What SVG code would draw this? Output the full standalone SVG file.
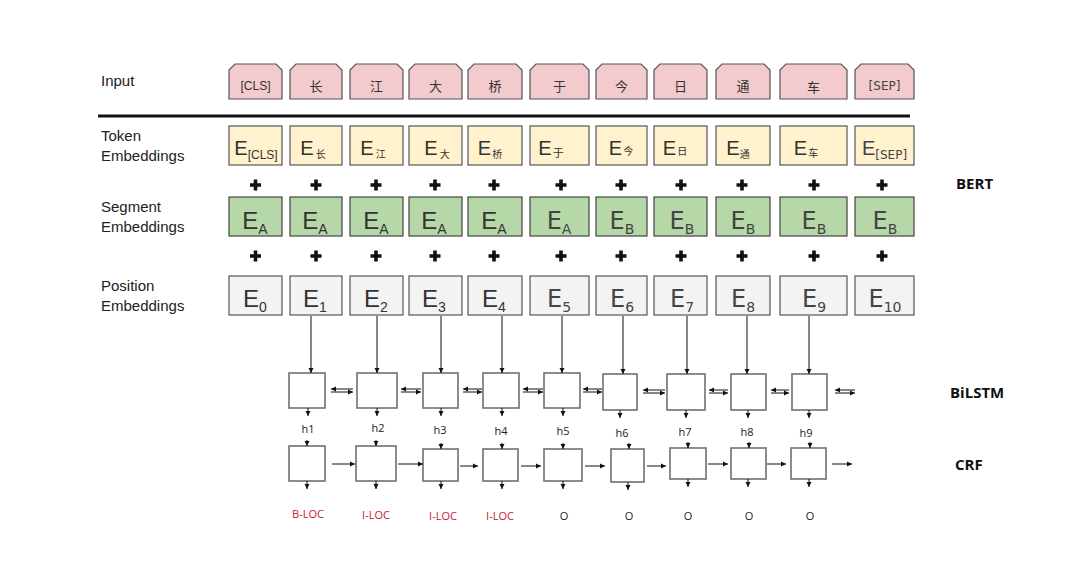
<svg xmlns="http://www.w3.org/2000/svg" width="1070" height="573" viewBox="0 0 1070 573">
<style>
.lbl{font-family:"Liberation Sans",Arial,sans-serif;font-size:15px;fill:#222}
.inp{fill:#f3cace;stroke:#555;stroke-width:1.2}
.tok{fill:#fff2cc;stroke:#555;stroke-width:1.2}
.seg{fill:#b6d7a8;stroke:#444;stroke-width:1.2}
.pos{fill:#f3f3f3;stroke:#555;stroke-width:1.2}
.it{font-family:"Liberation Sans","Noto Sans CJK SC",sans-serif;font-size:12px;fill:#333;text-anchor:middle}
.ic{font-family:"Noto Sans CJK SC",sans-serif;font-size:13px;fill:#333;text-anchor:middle}
.te{font-family:"Liberation Sans","Noto Sans CJK SC",sans-serif;font-size:20px;fill:#333;text-anchor:middle}
.se{font-family:"Liberation Sans",sans-serif;font-size:24px;fill:#333;text-anchor:middle}
.sd{font-family:"DejaVu Sans",sans-serif;font-size:24px;fill:#444;text-anchor:middle}
.cell{fill:#fff;stroke:#707070;stroke-width:1.6}
.ln{stroke:#111;stroke-width:1;fill:none}
.sm{font-family:"Open Sans","Noto Sans",sans-serif;font-size:11px;fill:#222;text-anchor:middle}
.red{fill:#c8202c}
.side{font-family:"Open Sans","DejaVu Sans",sans-serif;font-size:15px;font-weight:bold;fill:#111}
</style>
<defs>
<marker id="ah" markerWidth="6" markerHeight="6" refX="5" refY="3" orient="auto" markerUnits="userSpaceOnUse">
<path d="M0,0.5 L5,3 L0,5.5 Z" fill="#111"/>
</marker>
<path id="plus" d="M-1.8,-5.5 H1.8 V-1.8 H5.5 V1.8 H1.8 V5.5 H-1.8 V1.8 H-5.5 V-1.8 H-1.8 Z" fill="#111"/>
</defs>
<rect width="1070" height="573" fill="#fff"/>

<g id="row-labels">
<text class="lbl" x="101" y="86">Input</text>
<text class="lbl" x="101" y="141">Token</text>
<text class="lbl" x="101" y="161">Embeddings</text>
<text class="lbl" x="101" y="212">Segment</text>
<text class="lbl" x="101" y="232">Embeddings</text>
<text class="lbl" x="101" y="291">Position</text>
<text class="lbl" x="101" y="311">Embeddings</text>
</g>
<line x1="98" y1="116" x2="910" y2="116" stroke="#111" stroke-width="3"/>

<g id="input">
<path class="inp" d="M229,99 V70 L235,64 H276 L282,70 V99 Z"/><text class="it" x="255.5" y="90">[CLS]</text>
<path class="inp" d="M290,99 V70 L296,64 H336 L342,70 V99 Z"/><text class="ic" x="316" y="91">长</text>
<path class="inp" d="M350,99 V70 L356,64 H397 L403,70 V99 Z"/><text class="ic" x="376.5" y="91">江</text>
<path class="inp" d="M409,99 V70 L415,64 H456 L462,70 V99 Z"/><text class="ic" x="435.5" y="91">大</text>
<path class="inp" d="M468,99 V70 L474,64 H516 L522,70 V99 Z"/><text class="ic" x="495" y="91">桥</text>
<path class="inp" d="M530,99 V70 L536,64 H583 L589,70 V99 Z"/><text class="ic" x="559.5" y="91">于</text>
<path class="inp" d="M596,99 V70 L602,64 H641 L647,70 V99 Z"/><text class="ic" x="621.5" y="91">今</text>
<path class="inp" d="M654,99 V70 L660,64 H701 L707,70 V99 Z"/><text class="ic" x="680.5" y="91">日</text>
<path class="inp" d="M716,99 V70 L722,64 H764 L770,70 V99 Z"/><text class="ic" x="743" y="91">通</text>
<path class="inp" d="M780,99 V70 L786,64 H841 L847,70 V99 Z"/><text class="ic" x="813.5" y="92">车</text>
<path class="inp" d="M855,99 V70 L861,64 H908 L914,70 V99 Z"/><text class="it" x="884.5" y="90" style="font-family:'DejaVu Sans',sans-serif;fill:#444">[SEP]</text>
</g>

<g id="token">
<rect class="tok" x="229" y="126" width="53" height="39"/><text class="te" x="256" y="155">E<tspan dy="4" font-size="12">[CLS]</tspan></text>
<rect class="tok" x="290" y="126" width="52" height="39"/><text class="te" x="313" y="155">E<tspan dx="2" dy="3" font-size="10">长</tspan></text>
<rect class="tok" x="350" y="126" width="53" height="39"/><text class="te" x="373" y="155">E<tspan dx="2" dy="3" font-size="10">江</tspan></text>
<rect class="tok" x="409" y="126" width="53" height="39"/><text class="te" x="437" y="155">E<tspan dx="2" dy="3" font-size="10">大</tspan></text>
<rect class="tok" x="468" y="126" width="54" height="39"/><text class="te" x="490" y="155">E<tspan dx="1" dy="3" font-size="10">桥</tspan></text>
<rect class="tok" x="530" y="126" width="59" height="39"/><text class="te" x="551" y="155">E<tspan dx="1" dy="2" font-size="11">于</tspan></text>
<rect class="tok" x="596" y="126" width="51" height="39"/><text class="te" x="621" y="155">E<tspan dx="1" dy="0" font-size="10">今</tspan></text>
<rect class="tok" x="654" y="126" width="53" height="39"/><text class="te" x="675" y="155">E<tspan dx="1" dy="0" font-size="10">日</tspan></text>
<rect class="tok" x="716" y="126" width="54" height="39"/><text class="te" x="738" y="155">E<tspan dy="3" font-size="10">通</tspan></text>
<rect class="tok" x="780" y="126" width="67" height="39"/><text class="te" x="806" y="155">E<tspan dx="1" dy="2" font-size="10">车</tspan></text>
<rect class="tok" x="855" y="126" width="59" height="39"/><text class="te" x="884.5" y="155" style="fill:#444">E<tspan dy="4" font-size="12" font-family="DejaVu Sans">[SEP]</tspan></text>
</g>

<g id="plus-row-1">
<use href="#plus" x="255.5" y="185"/><use href="#plus" x="316" y="185"/><use href="#plus" x="376" y="185"/><use href="#plus" x="435" y="185"/><use href="#plus" x="494" y="185"/><use href="#plus" x="561" y="185"/><use href="#plus" x="621" y="185"/><use href="#plus" x="681" y="185"/><use href="#plus" x="742" y="185"/><use href="#plus" x="814" y="185"/><use href="#plus" x="882" y="185"/>
</g>

<g id="segment">
<rect class="seg" x="229" y="197" width="53" height="39"/><text class="se" x="255" y="229">E<tspan dy="5" font-size="14">A</tspan></text>
<rect class="seg" x="290" y="197" width="52" height="39"/><text class="se" x="315" y="229">E<tspan dy="5" font-size="14">A</tspan></text>
<rect class="seg" x="350" y="197" width="53" height="39"/><text class="se" x="376" y="229">E<tspan dy="5" font-size="14">A</tspan></text>
<rect class="seg" x="409" y="197" width="53" height="39"/><text class="se" x="434" y="229">E<tspan dy="5" font-size="14">A</tspan></text>
<rect class="seg" x="468" y="197" width="54" height="39"/><text class="se" x="494" y="229">E<tspan dy="5" font-size="14">A</tspan></text>
<rect class="seg" x="530" y="197" width="59" height="39"/><text class="sd" x="559" y="229">E<tspan dy="5" font-size="14">A</tspan></text>
<rect class="seg" x="596" y="197" width="51" height="39"/><text class="sd" x="622" y="229">E<tspan dy="5" font-size="14">B</tspan></text>
<rect class="seg" x="654" y="197" width="53" height="39"/><text class="sd" x="682" y="229">E<tspan dy="5" font-size="14">B</tspan></text>
<rect class="seg" x="716" y="197" width="54" height="39"/><text class="sd" x="743" y="229">E<tspan dy="5" font-size="14">B</tspan></text>
<rect class="seg" x="780" y="197" width="67" height="39"/><text class="sd" x="814" y="229">E<tspan dy="5" font-size="14">B</tspan></text>
<rect class="seg" x="855" y="197" width="59" height="39"/><text class="sd" x="885" y="229">E<tspan dy="5" font-size="14">B</tspan></text>
</g>

<g id="plus-row-2">
<use href="#plus" x="255.5" y="256"/><use href="#plus" x="316" y="256"/><use href="#plus" x="376" y="256"/><use href="#plus" x="435" y="256"/><use href="#plus" x="494" y="256"/><use href="#plus" x="561" y="256"/><use href="#plus" x="621" y="256"/><use href="#plus" x="681" y="256"/><use href="#plus" x="742" y="256"/><use href="#plus" x="814" y="256"/><use href="#plus" x="882" y="256"/>
</g>

<g id="position">
<rect class="pos" x="229" y="276" width="53" height="39"/><text class="se" x="255" y="307">E<tspan dy="5" font-size="14">0</tspan></text>
<rect class="pos" x="290" y="276" width="52" height="39"/><text class="se" x="315" y="307">E<tspan dy="5" font-size="14">1</tspan></text>
<rect class="pos" x="350" y="276" width="53" height="39"/><text class="se" x="376" y="307">E<tspan dy="5" font-size="14">2</tspan></text>
<rect class="pos" x="409" y="276" width="53" height="39"/><text class="se" x="434" y="307">E<tspan dy="5" font-size="14">3</tspan></text>
<rect class="pos" x="468" y="276" width="54" height="39"/><text class="se" x="494" y="307">E<tspan dy="5" font-size="14">4</tspan></text>
<rect class="pos" x="530" y="276" width="59" height="39"/><text class="sd" x="559" y="307">E<tspan dy="5" font-size="14">5</tspan></text>
<rect class="pos" x="596" y="276" width="51" height="39"/><text class="sd" x="622" y="307">E<tspan dy="5" font-size="14">6</tspan></text>
<rect class="pos" x="654" y="276" width="53" height="39"/><text class="sd" x="682" y="307">E<tspan dy="5" font-size="14">7</tspan></text>
<rect class="pos" x="716" y="276" width="54" height="39"/><text class="sd" x="743" y="307">E<tspan dy="5" font-size="14">8</tspan></text>
<rect class="pos" x="780" y="276" width="67" height="39"/><text class="sd" x="814" y="307">E<tspan dy="5" font-size="14">9</tspan></text>
<rect class="pos" x="855" y="276" width="59" height="39"/><text class="sd" x="885" y="307">E<tspan dy="5" font-size="14">10</tspan></text>
</g>

<g id="bilstm">
<rect class="cell" x="289" y="373" width="36" height="35"/>
<rect class="cell" x="357" y="373" width="40" height="35"/>
<rect class="cell" x="423" y="373" width="35" height="35"/>
<rect class="cell" x="483" y="373" width="36" height="35"/>
<rect class="cell" x="544" y="373" width="36" height="35"/>
<rect class="cell" x="603" y="374" width="34" height="36"/>
<rect class="cell" x="667" y="374" width="38" height="36"/>
<rect class="cell" x="731" y="374" width="35" height="36"/>
<rect class="cell" x="792" y="374" width="35" height="36"/>
</g>

<g id="h-labels">
<text class="sm" x="308" y="433">h1</text>
<text class="sm" x="378" y="432">h2</text>
<text class="sm" x="440" y="434">h3</text>
<text class="sm" x="501" y="435">h4</text>
<text class="sm" x="563" y="435">h5</text>
<text class="sm" x="622" y="437">h6</text>
<text class="sm" x="685" y="436">h7</text>
<text class="sm" x="747" y="436">h8</text>
<text class="sm" x="806" y="437">h9</text>
</g>

<g id="crf">
<rect class="cell" x="289" y="446" width="36" height="35"/>
<rect class="cell" x="356" y="446" width="40" height="35"/>
<rect class="cell" x="423" y="449" width="35" height="32"/>
<rect class="cell" x="483" y="449" width="35" height="32"/>
<rect class="cell" x="544" y="449" width="38" height="32"/>
<rect class="cell" x="611" y="449" width="33" height="33"/>
<rect class="cell" x="670" y="448" width="36" height="31"/>
<rect class="cell" x="731" y="448" width="35" height="31"/>
<rect class="cell" x="791" y="448" width="35" height="31"/>
</g>

<g id="tags">
<text class="sm red" x="308" y="518">B-LOC</text>
<text class="sm red" x="376" y="519">I-LOC</text>
<text class="sm red" x="443" y="520">I-LOC</text>
<text class="sm red" x="500" y="520">I-LOC</text>
<text class="sm" x="564" y="520">O</text>
<text class="sm" x="629" y="520">O</text>
<text class="sm" x="688" y="520">O</text>
<text class="sm" x="749" y="520">O</text>
<text class="sm" x="810" y="520">O</text>
</g>

<g id="side-labels">
<text class="side" x="956" y="189">BERT</text>
<text class="side" x="950" y="398">BiLSTM</text>
<text class="side" x="955" y="470">CRF</text>
</g>

<g id="connectors" class="ln" marker-end="url(#ah)">
<!-- position to BiLSTM -->
<line x1="311" y1="316" x2="311" y2="373"/>
<line x1="377" y1="316" x2="377" y2="373"/>
<line x1="441" y1="316" x2="441" y2="373"/>
<line x1="502" y1="316" x2="502" y2="373"/>
<line x1="562" y1="316" x2="562" y2="373"/>
<line x1="623" y1="316" x2="623" y2="374"/>
<line x1="687" y1="316" x2="687" y2="374"/>
<line x1="747" y1="316" x2="747" y2="374"/>
<line x1="809" y1="316" x2="809" y2="374"/>
<!-- BiLSTM outputs -->
<line x1="308" y1="408" x2="308" y2="416"/>
<line x1="377" y1="408" x2="377" y2="416"/>
<line x1="441" y1="408" x2="441" y2="416"/>
<line x1="502" y1="408" x2="502" y2="416"/>
<line x1="563" y1="408" x2="563" y2="416"/>
<line x1="620" y1="410" x2="620" y2="418"/>
<line x1="686" y1="410" x2="686" y2="418"/>
<line x1="748" y1="410" x2="748" y2="418"/>
<line x1="809" y1="410" x2="809" y2="418"/>
<!-- bidirectional -->
<line x1="353" y1="389" x2="331" y2="389"/><line x1="331" y1="392" x2="353" y2="392"/>
<line x1="421" y1="389" x2="401" y2="389"/><line x1="401" y1="392" x2="421" y2="392"/>
<line x1="482" y1="389" x2="463" y2="389"/><line x1="463" y1="392" x2="482" y2="392"/>
<line x1="543" y1="389" x2="523" y2="389"/><line x1="523" y1="392" x2="543" y2="392"/>
<line x1="602" y1="389" x2="583" y2="389"/><line x1="583" y1="392" x2="602" y2="392"/>
<line x1="665" y1="390" x2="643" y2="390"/><line x1="643" y1="393" x2="665" y2="393"/>
<line x1="728" y1="390" x2="709" y2="390"/><line x1="709" y1="393" x2="728" y2="393"/>
<line x1="789" y1="390" x2="771" y2="390"/><line x1="771" y1="393" x2="789" y2="393"/>
<line x1="855" y1="390" x2="835" y2="390"/><line x1="835" y1="393" x2="855" y2="393"/>
<!-- CRF inputs -->
<line x1="307" y1="440" x2="307" y2="446"/>
<line x1="376" y1="440" x2="376" y2="446"/>
<line x1="441" y1="443" x2="441" y2="449"/>
<line x1="502" y1="443" x2="502" y2="449"/>
<line x1="563" y1="443" x2="563" y2="449"/>
<line x1="629" y1="443" x2="629" y2="449"/>
<line x1="688" y1="442" x2="688" y2="448"/>
<line x1="749" y1="442" x2="749" y2="448"/>
<line x1="810" y1="442" x2="810" y2="448"/>
<!-- CRF transitions -->
<line x1="332" y1="464" x2="355" y2="464"/>
<line x1="398" y1="464" x2="423" y2="464"/>
<line x1="460" y1="466" x2="478" y2="466"/>
<line x1="521" y1="466" x2="541" y2="466"/>
<line x1="585" y1="466" x2="605" y2="466"/>
<line x1="647" y1="466" x2="666" y2="466"/>
<line x1="708" y1="464" x2="728" y2="464"/>
<line x1="767" y1="464" x2="786" y2="464"/>
<line x1="832" y1="464" x2="852" y2="464"/>
<!-- CRF outputs -->
<line x1="307" y1="481" x2="307" y2="489"/>
<line x1="376" y1="481" x2="376" y2="489"/>
<line x1="441" y1="481" x2="441" y2="489"/>
<line x1="502" y1="481" x2="502" y2="489"/>
<line x1="563" y1="481" x2="563" y2="489"/>
<line x1="628" y1="482" x2="628" y2="490"/>
<line x1="688" y1="479" x2="688" y2="487"/>
<line x1="748" y1="479" x2="748" y2="487"/>
<line x1="809" y1="479" x2="809" y2="487"/>
</g>
</svg>
